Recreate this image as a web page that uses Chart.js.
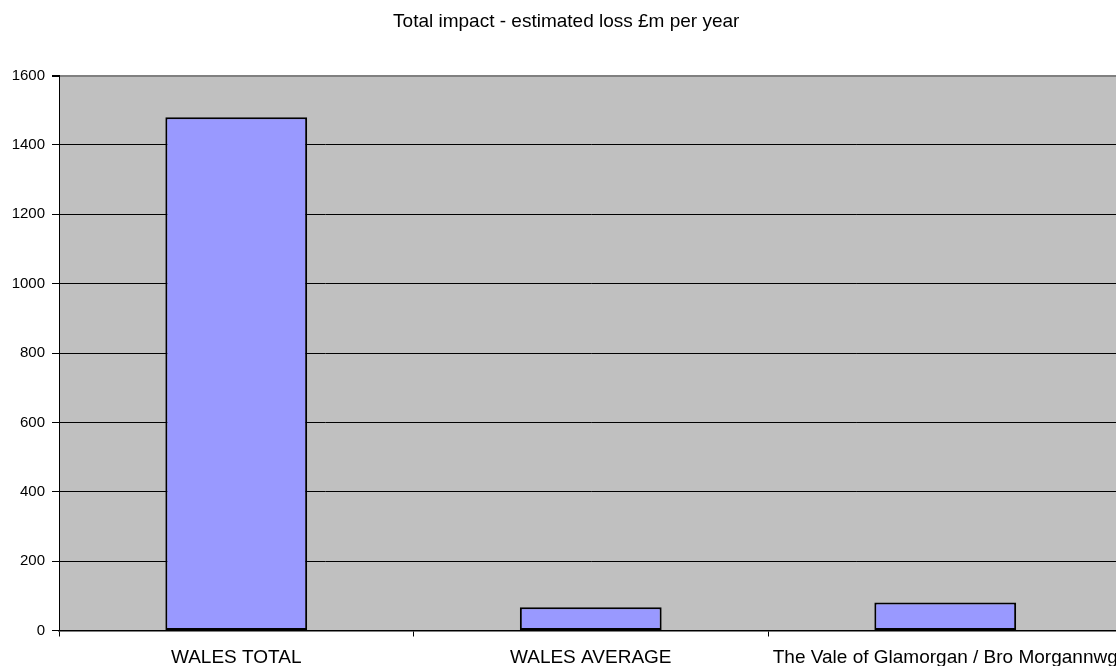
<!DOCTYPE html>
<html>
<head>
<meta charset="utf-8">
<script src="https://cdn.jsdelivr.net/npm/chart.js@4/dist/chart.umd.min.js"></script>
<style>
html,body{margin:0;padding:0;background:#fff;overflow:hidden;}
canvas{display:block;}
</style>
</head>
<body>
<canvas id="c" width="1130" height="666" style="width:1130px;height:666px"></canvas>
<script>
const categories = ["WALES TOTAL", "WALES AVERAGE", "The Vale of Glamorgan / Bro Morgannwg"];
const lossValues = [1480, 67, 81];
const yTicks = [0, 200, 400, 600, 800, 1000, 1200, 1400, 1600];
const chartTitle = "Total impact - estimated loss £m per year";

const plotBg = {
  id: 'plotBg',
  beforeDraw(chart) {
    const a = chart.chartArea, ctx = chart.ctx;
    ctx.save();
    ctx.fillStyle = '#C0C0C0';
    ctx.fillRect(a.left, a.top, a.right - a.left, a.bottom - a.top);
    ctx.restore();
  }
};

new Chart(document.getElementById('c'), {
  type: 'bar',
  data: {
    labels: categories,
    datasets: [{
      data: lossValues,
      backgroundColor: '#9999FF',
      borderColor: '#000000',
      borderWidth: 2,
      borderSkipped: false,
      barPercentage: 0.4,
      categoryPercentage: 1.0
    }]
  },
  options: {
    responsive: false,
    animation: false,
    devicePixelRatio: 1,
    layout: { padding: { left: 10, right: 7.5, top: 0, bottom: 0 } },
    plugins: {
      legend: { display: false },
      tooltip: { enabled: false },
      title: {
        display: true,
        text: chartTitle,
        color: '#000',
        font: { family: 'Liberation Sans, Arial, sans-serif', size: 19, weight: 'normal' },
        padding: { top: 10.5, bottom: 42.2 }
      }
    },
    scales: {
      x: {
        offset: true,
        afterFit(s) { s.height = 35.5; },
        border: { color: '#000', width: 1.5 },
        grid: { drawOnChartArea: false, drawTicks: true, tickLength: 6, color: '#000', offset: true },
        ticks: {
          color: '#000',
          autoSkip: false,
          maxRotation: 0,
          minRotation: 0,
          padding: 10,
          font: { family: 'Liberation Sans, Arial, sans-serif', size: 19 }
        }
      },
      y: {
        min: 0,
        max: 1600,
        afterFit(s) { s.width = 49; },
        afterBuildTicks(s) { s.ticks = yTicks.map(v => ({ value: v })); },
        border: { color: '#000', width: 1 },
        grid: {
          color: (c) => (c.tick && c.tick.value === 1600) ? '#808080' : '#000',
          lineWidth: (c) => (c.tick && c.tick.value === 1600) ? 2 : 1,
          tickColor: '#000',
          tickLength: 7
        },
        ticks: {
          color: '#000',
          padding: 7,
          callback: (v) => String(v),
          font: { family: 'Liberation Sans, Arial, sans-serif', size: 15 }
        }
      }
    }
  },
  plugins: [plotBg]
});
</script>
</body>
</html>
